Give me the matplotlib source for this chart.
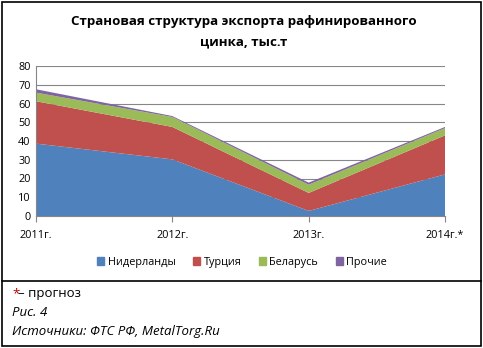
import matplotlib.pyplot as plt
import numpy as np
from matplotlib.patches import Rectangle
from matplotlib.lines import Line2D

# data, тыс.т
years = ["2011г.", "2012г.", "2013г.", "2014г.*"]
netherlands = [38.6, 30.2, 2.7, 22.2]
turkey = [22.6, 17.3, 9.6, 20.8]
belarus = [4.6, 5.3, 4.4, 3.9]
others = [1.8, 0.5, 1.1, 0.6]
series_names = ["Нидерланды", "Турция", "Беларусь", "Прочие"]
colors = ["#4F81BD", "#C0504D", "#9BBB59", "#8064A2"]

plt.rcParams['font.family'] = ['Open Sans', 'DejaVu Sans']

fig = plt.figure(figsize=(4.83, 3.48), dpi=100)
W, H = 483, 348

ax = fig.add_axes([36 / W, 1 - 216 / H, 409 / W, 150 / H])
x = np.arange(len(years))
ax.stackplot(x, netherlands, turkey, belarus, others, colors=colors,
             edgecolor='none', zorder=2)

ax.set_xlim(0, 3)
ax.set_ylim(0, 80)
ax.set_yticks(range(0, 81, 10))
ax.set_xticks(x)
ax.set_xticklabels(years, fontsize=7.8)
ax.tick_params(axis='y', length=0, labelsize=7.8, pad=4)
ax.tick_params(axis='x', length=4, color='#868686', pad=6)
ax.grid(axis='y', color='#868686', linewidth=0.8, zorder=0)
for s in ['top', 'right']:
    ax.spines[s].set_visible(False)
ax.spines['left'].set_color('#868686')
ax.spines['bottom'].set_color('#868686')

# title
fig.text(244 / W, 1 - 22 / H, "Страновая структура экспорта рафинированного",
         ha='center', va='center', fontsize=9.6, fontweight='bold')
fig.text(244 / W, 1 - 42 / H, "цинка, тыс.т",
         ha='center', va='center', fontsize=9.6, fontweight='bold')

# legend
handles = [Rectangle((0, 0), 1, 1, color=c) for c in colors]
fig.legend(handles, series_names, loc='center', bbox_to_anchor=(242 / W, 1 - 262 / H),
           ncol=4, frameon=False, fontsize=7.8, handlelength=0.7, handleheight=0.7,
           handletextpad=0.3, columnspacing=1.6)

# frames
fig.add_artist(Rectangle((2 / W, 1 - 346 / H), 479 / W, 344 / H, transform=fig.transFigure,
                         fill=False, edgecolor='black', linewidth=1.2))
fig.add_artist(Line2D([2 / W, 481 / W], [1 - 280.5 / H, 1 - 280.5 / H],
                      transform=fig.transFigure, color='black', linewidth=1.2))

# notes
fig.text(12 / W, 1 - 294 / H, "*", color='#C00000', fontsize=9.5, va='center')
fig.text(18 / W, 1 - 294 / H, "– прогноз", fontsize=9.5, va='center')
fig.text(12 / W, 1 - 313 / H, "Рис. 4", fontsize=9.5, style='italic', va='center')
fig.text(12 / W, 1 - 332 / H, "Источники: ФТС РФ, MetalTorg.Ru", fontsize=9.5,
         style='italic', va='center')

fig.savefig("out.png", dpi=100)
